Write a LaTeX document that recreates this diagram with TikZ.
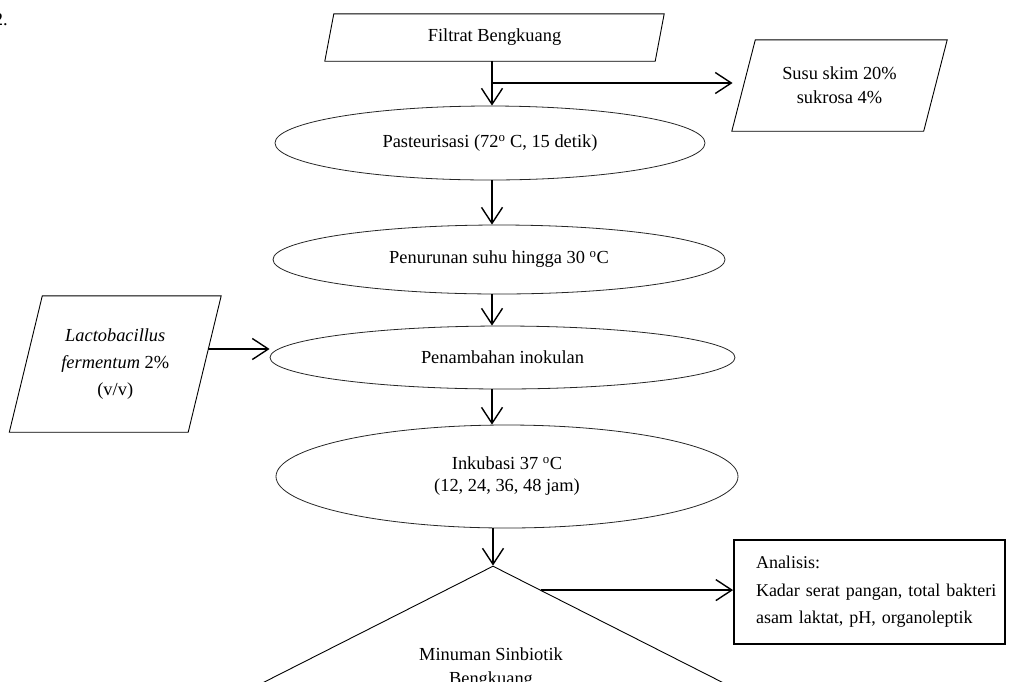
\documentclass[tikz,border=0pt]{standalone}
\usepackage{fontspec}
\setmainfont{Liberation Serif}
\usetikzlibrary{arrows.meta}
\tikzset{
  fbtxt/.style={font=\fontsize{18.4pt}{#1}\selectfont, inner sep=0pt, align=center},
  fbtxt/.default=22pt,
  fbio/.style={fbtxt, rectangle},
  fbline/.style={draw=black, line width=0.9pt, line join=miter},
  fbproc/.style={fbtxt, ellipse, draw=black!85, line width=0.8pt},
  fbbox/.style={fbtxt=27.5pt, rectangle, draw=black, line width=1.8pt, align=left},
  fbdec/.style={diamond, draw=black, line width=0.9pt, inner sep=0pt},
  fbarr/.style={line width=1.4pt, -{Straight Barb[length=16pt,width=21pt]}},
}
\usetikzlibrary{shapes.geometric}
\newcommand{\fbDeg}{\textsuperscript{o}}
% slanted outline round a text node: #1 node name, #2 half of the slant
\newcommand{\fbPara}[2]{%
  \draw[fbline] ([xshift=-#2]#1.south west) -- ([xshift=#2]#1.north west)
    -- ([xshift=#2]#1.north east) -- ([xshift=-#2]#1.south east) -- cycle;}

\begin{document}
\begin{tikzpicture}[x=1pt,y=-1pt]
  \path[use as bounding box, clip] (0,0) rectangle (1011,681);
  \coordinate (axis) at (492,0);
  \node[fbtxt, anchor=base east] (fignum) at (8,25) {2.};

  % main column
  \node[fbio, minimum width=330pt, minimum height=47pt] (filtrat) at (494.5,37.5) {Filtrat Bengkuang};
  \fbPara{filtrat}{4.5pt}
  \node[fbproc, minimum width=430pt, minimum height=74pt] (pasteur) at (490,143) {Pasteurisasi (72\fbDeg{} C, 15 detik)};
  \node[fbproc, minimum width=452pt, minimum height=69pt] (penurunan) at (499,259.5) {Penurunan suhu hingga 30 \fbDeg C};
  \node[fbproc, minimum width=465pt, minimum height=63pt] (penambahan) at (502.5,357.5) {Penambahan inokulan};
  \node[fbproc, minimum width=462pt, minimum height=103pt] (inkubasi) at (507,476.5) {Inkubasi 37 \fbDeg C\\(12, 24, 36, 48 jam)};
  \node[fbdec, minimum width=592pt, minimum height=300pt] (minuman) at (493,716) {};
  \node[fbtxt=24pt] (minumantxt) at (491,668) {Minuman Sinbiotik\\Bengkuang};

  % side inputs and output
  \node[fbio, fbtxt=24pt, minimum width=191.5pt, minimum height=91pt] (susu) at (839.5,85.5) {Susu skim 20\%\\sukrosa 4\%};
  \fbPara{susu}{11.75pt}
  \node[fbio, fbtxt=27pt, minimum width=178.5pt, minimum height=136pt] (lacto) at (115.25,364) {\textit{Lactobacillus}\\\textit{fermentum} 2\%\\(v/v)};
  \fbPara{lacto}{16.5pt}
  \node[fbbox, font=\fontsize{18pt}{27.5pt}\selectfont, text width=227pt, inner xsep=22pt, minimum height=104pt] (analisis) at (869.5,592)
    {Analisis:\\\mbox{Kadar serat pangan, total bakteri}\\asam laktat, pH, organoleptik};

  % connectors
  \coordinate (branch) at (492,83);
  \draw[fbarr] (filtrat.south -| axis) -- (pasteur.north -| axis);
  \draw[fbarr, shorten >=11pt] (branch) -- (branch -| susu.west);
  \draw[fbarr] (pasteur.south -| axis) -- (penurunan.north -| axis);
  \draw[fbarr] (penurunan.south -| axis) -- (penambahan.north -| axis);
  \draw[fbarr, shorten <=3pt] ([yshift=15pt]lacto.east) -- ([yshift=15pt]lacto.east -| penambahan.west);
  \draw[fbarr] (penambahan.south -| axis) -- (inkubasi.north -| axis);
  \draw[fbarr] (inkubasi.south -| minuman.north) -- (minuman.north);
  \draw[fbarr] (minuman.69) -- (minuman.69 -| analisis.west);
\end{tikzpicture}
\end{document}
